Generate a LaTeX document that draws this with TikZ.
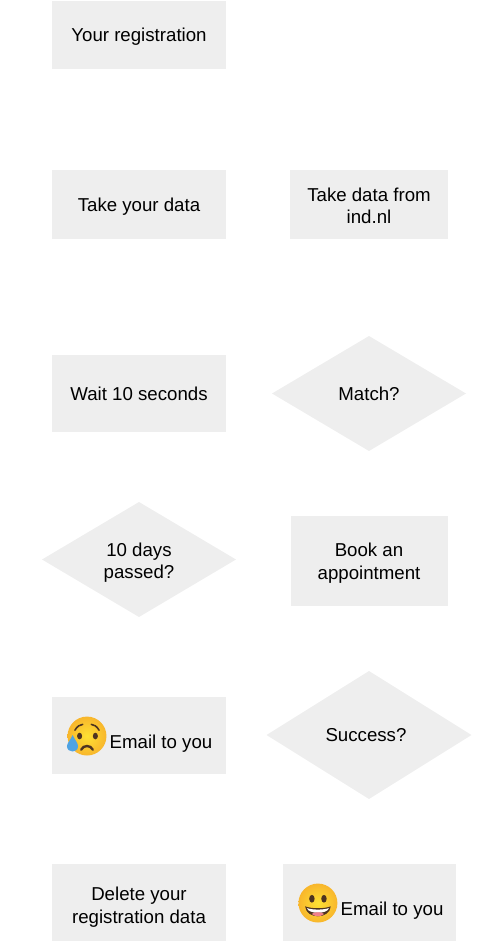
\documentclass[tikz,border=0pt]{standalone}
\usepackage{fontspec}
\setmainfont{Liberation Sans}
\usetikzlibrary{positioning, calc, shapes.geometric}
\definecolor{boxgray}{HTML}{EEEEEE}
\definecolor{facein}{HTML}{FEE133}
\definecolor{faceout}{HTML}{F8B62C}
\definecolor{faceink}{HTML}{4E3420}
\definecolor{teardrop}{HTML}{4FA3E3}
\definecolor{tongue}{HTML}{F0808A}

\begin{document}
\begin{tikzpicture}[
    block/.style={rectangle, fill=boxgray, minimum width=130.5pt, inner sep=0pt, outer sep=0pt, align=center, text depth=-1pt, font=\fontsize{14}{17.2}\selectfont},
    decide/.style={diamond, fill=boxgray, inner sep=0pt, outer sep=0pt, align=center, text depth=-1pt, font=\fontsize{14}{17.2}\selectfont},
    lbl/.style={inner sep=0pt, font=\fontsize{14}{17.2}\selectfont},
    face/.style={inner color=facein, outer color=faceout},
    sadface/.pic={
      \begin{scope}[x=14.6pt, y=14.6pt]
        \shade[face] (0,0) circle (1);
        \fill[faceink] (-0.38,0) ellipse (0.13 and 0.17);
        \fill[faceink] (0.43,0) ellipse (0.13 and 0.17);
        \draw[faceink, line width=1.2pt, line cap=round] (-0.62,0.3) .. controls (-0.5,0.52) and (-0.35,0.58) .. (-0.22,0.6);
        \draw[faceink, line width=1.2pt, line cap=round] (0.62,0.3) .. controls (0.5,0.52) and (0.35,0.58) .. (0.22,0.6);
        \draw[faceink, line width=1.8pt, line cap=round] (-0.3,-0.7) .. controls (-0.18,-0.45) and (0.18,-0.45) .. (0.3,-0.7);
        \fill[teardrop] (-0.74,0.05) .. controls (-0.62,-0.2) and (-0.45,-0.38) .. (-0.46,-0.54)
          .. controls (-0.48,-0.88) and (-1,-0.88) .. (-1.03,-0.54)
          .. controls (-1.04,-0.38) and (-0.85,-0.2) .. (-0.74,0.05) -- cycle;
      \end{scope}
    },
    happyface/.pic={
      \begin{scope}[x=14.6pt, y=14.6pt]
        \shade[face] (0,0) circle (1);
        \fill[faceink] (-0.31,0.22) ellipse (0.14 and 0.2);
        \fill[faceink] (0.31,0.22) ellipse (0.14 and 0.2);
        \fill[faceink] (-0.66,-0.17) .. controls (-0.3,-0.3) and (0.3,-0.3) .. (0.66,-0.17)
          .. controls (0.6,-0.85) and (-0.6,-0.85) .. (-0.66,-0.17) -- cycle;
        \fill[white] (-0.56,-0.26) .. controls (-0.3,-0.36) and (0.3,-0.36) .. (0.56,-0.26)
          .. controls (0.5,-0.58) and (-0.5,-0.58) .. (-0.56,-0.26) -- cycle;
        \fill[tongue] (-0.32,-0.56) .. controls (-0.15,-0.44) and (0.15,-0.44) .. (0.32,-0.56)
          .. controls (0.15,-0.72) and (-0.15,-0.72) .. (-0.32,-0.56) -- cycle;
      \end{scope}
    },
  ]
    \useasboundingbox (0pt,0pt) rectangle (357pt,-708.75pt);

    % left column
    \node[block, minimum height=51pt] (reg) at (104.25pt,-26.25pt) {Your registration};
    \node[block, minimum height=51.75pt, below=75.75pt of reg] (take) {Take your data};
    \node[block, minimum height=57.75pt, below=87pt of take] (wait) {Wait 10 seconds};
    \node[decide, minimum width=145.5pt, minimum height=86.25pt, below=52.5pt of wait] (days) {\rule{0pt}{12pt}10 days\\passed?};
    \node[block, minimum height=57.75pt, below=60pt of days] (sad) {};
    \node[block, minimum height=57.75pt, below=67.5pt of sad] (del) {\rule{0pt}{14pt}Delete your\\registration data};

    % right column
    \node[block, minimum width=118.5pt, minimum height=51.75pt, right=48pt of take] (ind) {\rule{0pt}{12pt}Take data from\\ind.nl};
    \node[decide, minimum width=145.5pt, minimum height=86.25pt, below=72.75pt of ind] (match) {Match?};
    \node[block, minimum width=117.75pt, minimum height=67.5pt, below=48.75pt of match] (book) {Book an\\appointment};
    \node[decide, minimum width=153.75pt, minimum height=96pt, below=48.75pt of book] (success) {Success?\kern4.5pt};
    \node[block, minimum width=129.75pt, minimum height=57.75pt, xshift=0.3pt, below=48.75pt of success] (happy) {};

    % emoji and their labels
    \pic at ($(sad.center)+(-39pt,-0.4pt)$) {sadface};
    \node[lbl] (sadlbl) at ($(sad.center)+(16.5pt,-5.9pt)$) {Email to you};
    \pic at ($(happy.center)+(-38.6pt,-0.4pt)$) {happyface};
    \node[lbl] (happylbl) at ($(happy.center)+(17pt,-5.9pt)$) {Email to you};
  \end{tikzpicture}
\end{document}
